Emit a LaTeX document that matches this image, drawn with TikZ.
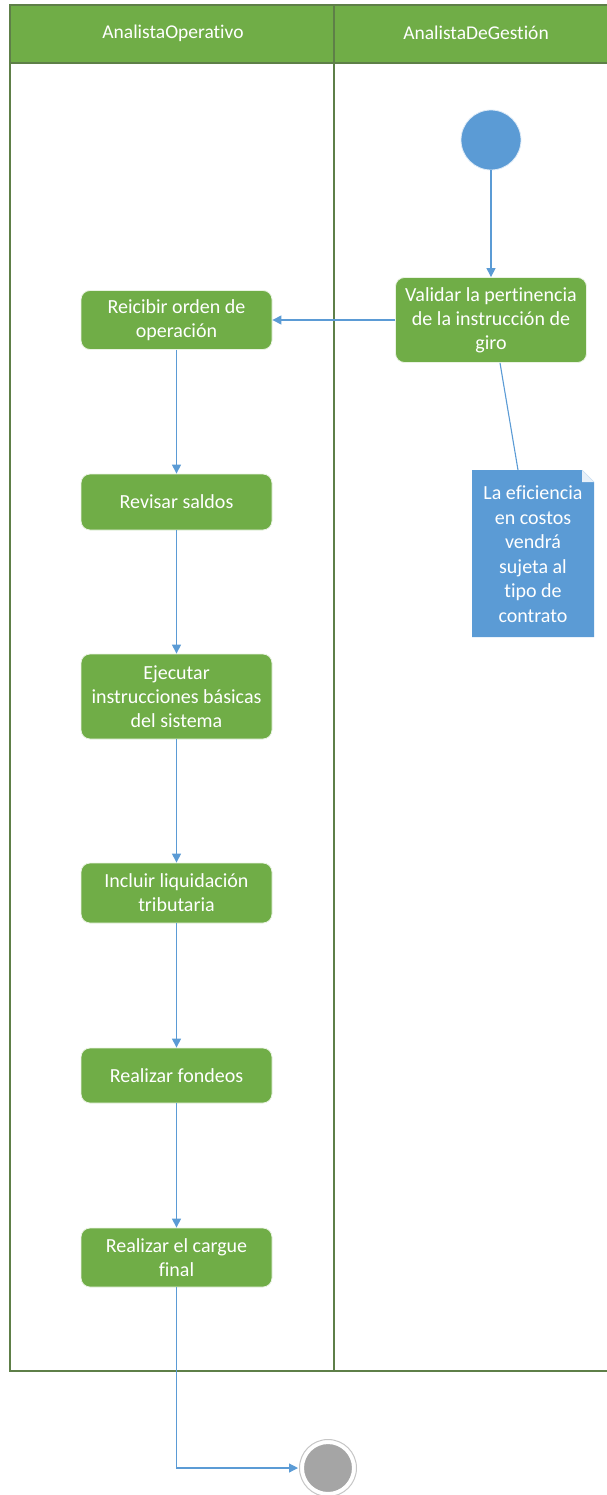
\documentclass[tikz,border=0pt]{standalone}
\usepackage{fontspec}
\setmainfont{Carlito}[Ligatures={NoCommon,NoRare}]
\usetikzlibrary{arrows.meta,shapes.misc}
\definecolor{lanegreen}{HTML}{70AD47}
\definecolor{laneline}{HTML}{5E7F48}
\definecolor{flowblue}{HTML}{5B9BD5}
\definecolor{endgray}{HTML}{A5A5A5}
\tikzset{
  lane/.style={draw=laneline, line width=1.4pt},
  lanehead/.style={text=white, font=\fontsize{19.5}{22}\selectfont},
  activity/.style={rectangle, rounded corners=9pt, fill=lanegreen, draw=white!85!lanegreen,
    line width=0.8pt, text=white, minimum width=191pt, align=center, inner sep=0pt,
    font=\fontsize{20}{24}\selectfont},
  flow/.style={draw=flowblue, line width=1.1pt, -{Triangle[length=9pt,width=9pt]}},
  noteline/.style={draw=flowblue, line width=1.1pt},
}
\begin{document}
\begin{tikzpicture}[x=1pt,y=-1pt]
\useasboundingbox (0,0) rectangle (607,1495);
% swimlanes
\fill[lanegreen] (10,5) rectangle (610,63);
\draw[lane] (610,5) -- (10,5) -- (10,1371) -- (610,1371);
\draw[lane] (10,63) -- (610,63);
\draw[lane] (334,5) -- (334,1371);
\node[lanehead] (h1) at (173,33) {AnalistaOperativo};
\node[lanehead] (h2) at (476,33) {AnalistaDeGestión};
% start and end
\node[circle, fill=flowblue, draw=white!80!flowblue, line width=0.8pt, minimum size=60pt, inner sep=0pt] (start) at (491,140) {};
\node[circle, fill=endgray, draw=white, line width=5pt, minimum size=53pt, inner sep=0pt] (stop) at (328,1468) {};
\draw[gray!45, line width=1pt] (stop.center) circle (28.5pt);
% activities
\node[activity, minimum height=85pt] (valid) at (491,320) {Validar la pertinencia\\de la instrucción de\\giro};
\node[activity, minimum height=59pt] (recv) at (176.5,320) {Reicibir orden de\\operación};
\node[activity, minimum height=56pt] (saldos) at (176.5,502) {Revisar saldos};
\node[activity, minimum height=85pt] (ejec) at (176.5,696.5) {Ejecutar\\instrucciones básicas\\del sistema};
\node[activity, minimum height=60pt] (trib) at (176.5,893) {Incluir liquidación\\tributaria};
\node[activity, minimum height=55pt] (fond) at (176.5,1075.5) {Realizar fondeos};
\node[activity, minimum height=59pt] (cargue) at (176.5,1257.5) {Realizar el cargue\\final};
% note with folded corner
\fill[flowblue] (472,470) -- (582,470) -- (594,482) -- (594,637) -- (472,637) -- cycle;
\fill[white!85!flowblue] (582,470) -- (594,482) -- (582,482) -- cycle;
\draw[white!70!flowblue, line width=0.6pt] (582,470) -- (594,482);
\node[text=white, align=center, font=\fontsize{20}{24.5}\selectfont, inner sep=0pt] (note) at (533,554) {La eficiencia\\en costos\\vendrá\\sujeta al\\tipo de\\contrato};
\coordinate (notetop) at (518,470);
% connectors
\draw[flow] (start) -- (valid);
\draw[flow] (valid) -- (recv);
\draw[noteline] ([xshift=9pt]valid.south) -- (notetop);
\draw[flow] (recv) -- (saldos);
\draw[flow] (saldos) -- (ejec);
\draw[flow] (ejec) -- (trib);
\draw[flow] (trib) -- (fond);
\draw[flow] (fond) -- (cargue);
\draw[flow] (cargue.south) |- ([xshift=-1pt]stop.west);
\end{tikzpicture}
\end{document}
